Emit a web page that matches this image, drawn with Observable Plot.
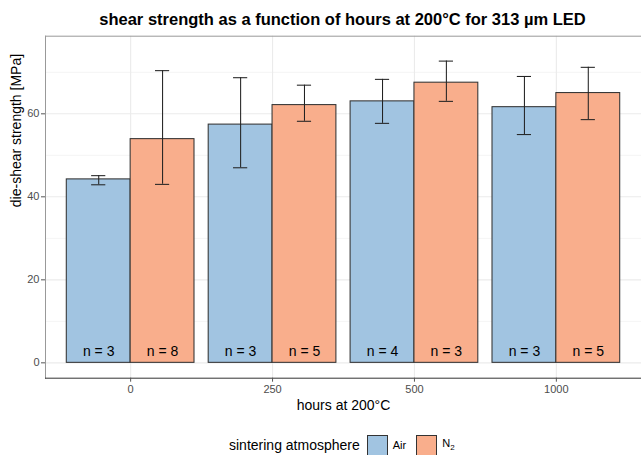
<!DOCTYPE html>
<html>
<head>
<meta charset="utf-8">
<script src="https://cdn.jsdelivr.net/npm/d3@7"></script>
<script src="https://cdn.jsdelivr.net/npm/@observablehq/plot@0.6"></script>
<style>
  body { margin: 0; background: #fff; font-family: "Liberation Sans", Arial, sans-serif; }
  #wrap { position: relative; width: 641px; height: 455px; overflow: hidden; background: #fff; }
  #title { position: absolute; left: 45px; width: 595px; top: 9.3px; line-height: 20px; text-align: center;
           font-weight: bold; font-size: 16.5px; color: #000; white-space: nowrap; }
  #chart { position: absolute; left: 0; top: 30px; }
  #legend { position: absolute; top: 434px; left: 229px; height: 22px; display: flex; align-items: center;
            font-size: 14px; color: #000; white-space: nowrap; }
  .key { width: 21px; height: 21px; box-sizing: border-box; border: 1px solid #333; display: inline-block; }
  .lab { font-size: 11px; }
</style>
</head>
<body>
<div id="wrap">
  <div id="title">shear strength as a function of hours at 200°C for 313 µm LED</div>
  <div id="chart"></div>
  <div id="legend"></div>
</div>
<script>
// ---- data ----
const hours = ["0", "250", "500", "1000"];
const groups = ["Air", "N2"];
const airMean = [44.2, 57.4, 63.0, 61.6];
const airLow  = [42.9, 47.0, 57.7, 55.0];
const airHigh = [45.1, 68.7, 68.3, 69.0];
const n2Mean  = [53.9, 62.1, 67.5, 65.0];
const n2Low   = [43.0, 58.2, 63.0, 58.6];
const n2High  = [70.4, 66.9, 72.7, 71.2];
const airN = [3, 3, 4, 3];
const n2N  = [8, 5, 3, 5];
const yMajor = [0, 20, 40, 60];
const yMinor = [10, 30, 50, 70];
const colors = ["#a1c4e1", "#f9ae8c"];
const xTitle = "hours at 200°C";
const yTitle = "die-shear strength [MPa]";
const legendTitle = "sintering atmosphere";

// ---- table built from arrays ----
const dodge = 0.45;
const rows = [];
hours.forEach((h, i) => {
  rows.push({i, g: 0, atm: "Air", mean: airMean[i], lo: airLow[i], hi: airHigh[i], n: airN[i]});
  rows.push({i, g: 1, atm: "N2", mean: n2Mean[i], lo: n2Low[i], hi: n2High[i], n: n2N[i]});
});
const cx = d => d.i + (d.g - 0.5) * dodge;

const plot = Plot.plot({
  width: 641,
  height: 395,
  marginTop: 5.7,
  marginBottom: 47.3,
  marginLeft: 45,
  marginRight: 0,
  style: {fontFamily: "Liberation Sans, Arial, sans-serif", background: "#fff", color: "#000"},
  x: {type: "linear", domain: [-0.6, 3.6]},
  y: {domain: [-3.7, 78.7]},
  color: {domain: groups, range: colors},
  marks: [
    Plot.ruleY(yMinor, {stroke: "#ebebeb", strokeWidth: 0.55}),
    Plot.ruleY(yMajor, {stroke: "#ebebeb", strokeWidth: 1.1}),
    Plot.ruleX(hours.map((h, i) => i), {stroke: "#ebebeb", strokeWidth: 1.1}),
    Plot.rectY(rows, {
      x1: d => cx(d) - dodge / 2, x2: d => cx(d) + dodge / 2,
      y1: 0, y2: "mean", fill: "atm", stroke: "#333", strokeWidth: 1.05
    }),
    Plot.ruleX(rows, {x: cx, y1: "lo", y2: "hi", stroke: "#222", strokeWidth: 1.05}),
    Plot.ruleY(rows, {y: "lo", x1: d => cx(d) - 0.05, x2: d => cx(d) + 0.05, stroke: "#222", strokeWidth: 1.05}),
    Plot.ruleY(rows, {y: "hi", x1: d => cx(d) - 0.05, x2: d => cx(d) + 0.05, stroke: "#222", strokeWidth: 1.05}),
    Plot.text(rows, {x: cx, y: 0, dy: -11, text: d => "n = " + d.n, fontSize: 14, fill: "#000", lineAnchor: "middle"}),
    Plot.frame({anchor: "top", stroke: "#999"}),
    Plot.frame({anchor: "left", stroke: "#999"}),
    Plot.frame({anchor: "bottom", stroke: "#333"}),
    Plot.axisY({ticks: yMajor, tickSize: 4, tickPadding: 2, fontSize: 11, label: null, fill: "#4d4d4d", stroke: "#555"}),
    Plot.axisX({ticks: hours.map((h, i) => i), tickFormat: i => hours[i], tickSize: 4, tickPadding: 3,
                fontSize: 11, label: null, fill: "#4d4d4d", stroke: "#555"}),
    Plot.text([yTitle], {frameAnchor: "left", rotate: -90, dx: -29, text: d => d, fontSize: 14, fill: "#000"}),
    Plot.text([xTitle], {frameAnchor: "bottom", dy: 27.3, text: d => d, fontSize: 14, fill: "#000", lineAnchor: "middle"})
  ]
});
document.getElementById("chart").appendChild(plot);

// ---- legend ----
const lg = document.getElementById("legend");
const t = document.createElement("span");
t.textContent = legendTitle;
t.style.marginRight = "7px";
lg.appendChild(t);
groups.forEach((g, k) => {
  const box = document.createElement("span");
  box.className = "key";
  box.style.background = colors[k];
  lg.appendChild(box);
  const lab = document.createElement("span");
  lab.className = "lab";
  lab.style.margin = k === 0 ? "0 10px 0 5px" : "0 0 0 5px";
  if (g === "N2") lab.innerHTML = "N<sub style='font-size:8px'>2</sub>";
  else lab.textContent = g;
  lg.appendChild(lab);
});
</script>
</body>
</html>
